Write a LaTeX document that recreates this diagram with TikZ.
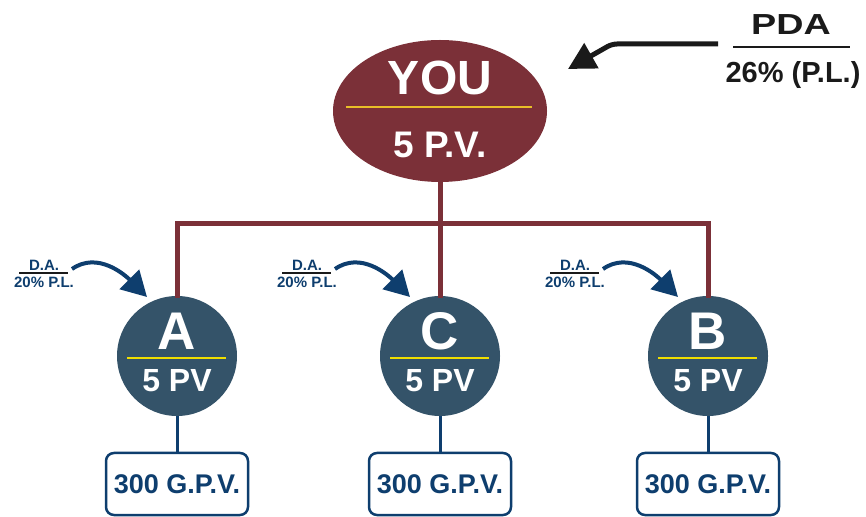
\documentclass[tikz,border=0pt]{standalone}
\usepackage{fontspec}
\setmainfont{Liberation Sans}
\usetikzlibrary{shapes.geometric}
\usetikzlibrary{arrows.meta}
\definecolor{maroon}{RGB}{123,48,56}
\definecolor{slate}{RGB}{52,83,105}
\definecolor{navy}{RGB}{14,62,110}
\definecolor{gold}{RGB}{232,190,40}
\definecolor{lemon}{RGB}{240,222,0}
\definecolor{ink}{RGB}{26,26,26}
\def\fs#1{\bfseries\fontsize{#1}{#1}\selectfont}
\tikzset{
	top/.style={ellipse,fill=maroon,inner sep=0pt,minimum width=214pt,minimum height=142pt},
	member/.style={circle,fill=slate,inner sep=0pt,minimum size=120pt},
	gpv/.style={rectangle,rounded corners=8pt,draw=navy,line width=2.5pt,fill=white,inner sep=0pt,
		minimum width=142pt,minimum height=62pt,text=navy,font=\fs{27}},
	big/.style={text=white,inner sep=0pt,font=\fs{48}},
	small/.style={text=white,inner sep=0pt,font=\fs{37}},
	letter/.style={text=white,inner sep=0pt,font=\fs{53}},
	pv/.style={text=white,inner sep=0pt,font=\fs{32}},
	da/.style={text=navy,inner sep=0pt,font=\fs{15}},
	pda/.style={text=ink,inner sep=0pt,font=\fs{29}},
	tree/.style={maroon,line width=5pt,line cap=rect},
	sep/.style={gold,line width=1.5pt},
	down/.style={navy,line width=3pt},
	bendarrow/.style={navy,line width=4pt,-{Triangle[length=25pt,width=27pt]}},
	pdaarrow/.style={ink,line width=5pt,rounded corners=5pt,-{Triangle[length=27pt,width=28pt]}},
	rule/.style={ink,line width=1.3pt},
	}

\begin{document}
\begin{tikzpicture}[x=1pt,y=1pt]
\useasboundingbox (0,0) rectangle (866,516);

% top
\node[top] (you) at (440,405) {};
\node[big] (youtxt) at (440,438) {YOU};
\node[small] (youpv) at (440,371) {5 P.V.};
\draw[sep] (346,409) -- (532,409);

% members
\foreach \n/\l/\x in {a/A/177,c/C/440,b/B/708}{
  \node[member] (\n) at (\x,160) {};
  \node[letter] (\n l) at (\x,185) {\l};
  \node[pv] (\n pv) at (\x,135) {5 PV};
  \draw[sep,lemon] (\x-50,158) -- (\x+49,158);
  \node[gpv] (\n box) at (\x,32) {300 G.P.V.};
  \draw[down] (\n) -- (\n box);
  % D.A.
  \node[da] (\n da) at (\x-133,251) {D.A.};
  \draw[rule] (\x-158,243) -- (\x-109,243);
  \node[da] (\n pl) at (\x-133,234) {20\% P.L.};
  \coordinate (\n s) at (\x-105,247);
  \coordinate (\n t) at (\x-30,219);
  \draw[bendarrow] (\n s) to[out=35,in=135] (\n t);
}

% tree
\coordinate (bar) at (440,292.5);
\draw[tree] (you) -- (c);
\draw[tree] (a.north) |- (bar) -| (b.north);

% PDA
\node[pda] (pdatxt) at (791,491) {\scalebox{1.3}[1]{PDA}};
\draw[rule,line width=1.5pt] (733,469) -- (850,469);
\node[pda,text depth=0pt] (pl) at (793,444) {26\% (P.L.)};
\coordinate (pdas) at (718,472);
\coordinate (pdat) at (568,447);
\draw[pdaarrow] (pdas) -- (612,472) -- (pdat);
\end{tikzpicture}
\end{document}
